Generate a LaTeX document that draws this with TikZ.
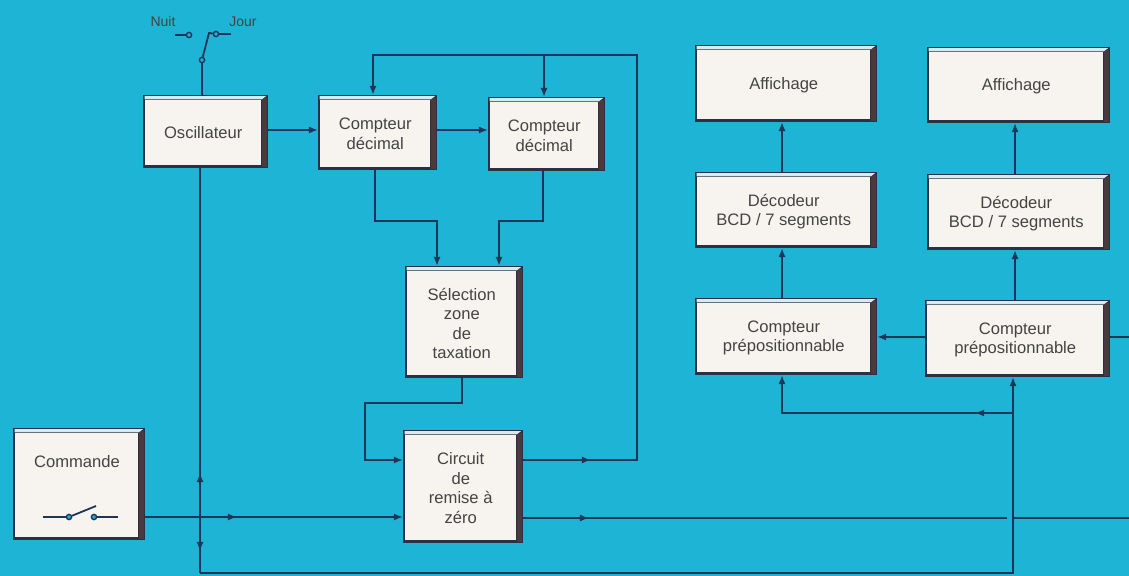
\documentclass[tikz,border=0pt]{standalone}
\usepackage{fontspec}
\setmainfont{Liberation Sans}
\usetikzlibrary{arrows.meta,decorations.markings}
\definecolor{bg}{HTML}{1DB4D5}
\definecolor{ln}{HTML}{1E3558}
\definecolor{edge}{HTML}{2B3142}
\definecolor{side}{HTML}{4A3A3F}
\definecolor{face}{HTML}{F7F4F0}
\definecolor{bev}{HTML}{D6EBEE}
\definecolor{txt}{HTML}{444444}
\tikzset{
 blk/.style={fill=edge, draw=none, inner sep=0pt, outer sep=0pt, rectangle},
 lbl/.style={text=txt, align=center, font=\fontsize{8.3}{9.8}\selectfont, inner sep=0pt},
 small/.style={text=txt, font=\fontsize{7}{8}\selectfont, inner sep=0pt},
 wire/.style={draw=ln, color=ln, line width=0.9pt},
 arr/.style={wire, -{Latex[length=4.6pt,width=3.6pt]}},
 marr/.style={postaction={decorate}, decoration={markings, mark=at position #1 with {\arrow{Latex[length=4.6pt,width=3.6pt]}}}},
 contact/.style={circle, draw=ln, line width=0.7pt, fill=bg, inner sep=0pt, minimum size=2.6pt},
}
\newcommand\bbox[6]{%
 \node[blk, minimum width={(#4-#2)*0.5pt}, minimum height={(#5-#3)*0.5pt}] (#1) at ({(#2+#4)/2},{(#3+#5)/2}) {};
 \fill[side] (#4-6.5,#3+3) rectangle (#4-1,#5-1);
 \fill[bev] (#2+1.5,#3+1.2) -- (#4-2,#3+1.2) -- (#4-6.5,#3+4.5) -- (#2+1.5,#3+4.5) -- cycle;
 \fill[face] (#2+2,#3+5.5) rectangle (#4-7,#5-2.5);
 \node[lbl] (#1-t) at ({(#2+#4-4.5)/2},{(#3+#5+3)/2}) {#6};
}
\begin{document}
\begin{tikzpicture}[x=0.5pt,y=-0.5pt]
\fill[bg] (0,0) rectangle (1129,576);
\useasboundingbox (0,0) rectangle (1129,576);

% boxes
\bbox{osc}{143}{95}{268}{168}{Oscillateur}
\bbox{cd1}{318}{95}{437}{170}{Compteur\\décimal}
\bbox{cd2}{488}{97}{605}{171}{Compteur\\décimal}
\bbox{sel}{405}{266}{523}{378}{Sélection\\zone\\de\\taxation}
\bbox{circ}{403}{430}{523}{543}{Circuit\\de\\remise à\\zéro}
\bbox{cmd}{13}{428}{145}{540}{}
\node[lbl] (cmdt) at (77,462) {Commande};
\bbox{aff1}{695}{45}{877}{122}{Affichage}
\bbox{aff2}{927}{47}{1110}{123}{Affichage}
\bbox{dec1}{695}{172}{877}{248}{Décodeur\\BCD / 7 segments}
\bbox{dec2}{927}{174}{1110}{250}{Décodeur\\BCD / 7 segments}
\bbox{pp1}{695}{298}{877}{375}{Compteur\\prépositionnable}
\bbox{pp2}{925}{300}{1110}{377}{Compteur\\prépositionnable}

% Nuit / Jour switch
\node[small] (nuit) at (163,22) {Nuit};
\node[small] (jour) at (243,22) {Jour};
\node[contact] (pv) at (202,60) {};
\node[contact] (nc) at (189,35) {};
\node[contact] (jc) at (216,34) {};
\coordinate (nl) at (175,35);
\coordinate (jr) at (231,34);
\draw[wire] (osc.north -| pv) -- (pv);
\draw[wire] (pv) -- (209,33) -- (jc);
\draw[wire] (nl) -- (nc);
\draw[wire] (jc) -- (jr);

% Commande switch
\node[contact] (c1) at (69,517) {};
\node[contact] (c2) at (94,517) {};
\coordinate (cl) at (43,517);
\coordinate (cr) at (118,517);
\draw[wire] (cl) -- (c1);
\draw[wire] (c2) -- (cr);
\draw[wire] (c1) -- (96,506);

% left part connectors
\draw[arr] (osc.east |- 0,130) -- (cd1.west |- 0,130);
\draw[arr] (cd1.east |- 0,130) -- (cd2.west |- 0,130);
\draw[arr] (cd1.south -| 375,0) -- (375,221) -- (437,221) -- (sel.north -| 437,0);
\draw[arr] (cd2.south -| 543,0) -- (543,221) -- (499,221) -- (sel.north -| 499,0);
\draw[arr] (sel.south -| 462,0) -- (462,403) -- (365,403) -- (365,460) -- (circ.west |- 0,460);
\draw[arr, marr=46pt] (cmd.east |- 0,517) -- (circ.west |- 0,517);
\coordinate (jn) at (200,517);
\draw[wire, marr=22pt] (jn) -- (osc.south -| jn);
\draw[wire, marr=17pt] (jn) -- (200,573);
\draw[arr] (200,573) -| (pp2.south -| 1013,0);
\draw[arr, marr=19pt] (1013,413) -| (pp1.south -| 782,0);
\draw[arr, marr=34pt] (circ.east |- 0,460) -- (637,460) -- (637,55) -- (373,55) -- (cd1.north -| 373,0);
\draw[arr] (544,55) -- (cd2.north -| 544,0);
\coordinate (g1) at (1007,518);
\coordinate (g2) at (1012,518);
\coordinate (e1) at (1129,518);
\draw[wire, marr=33pt] (circ.east |- 0,518) -- (g1);
\draw[wire] (g2) -- (e1);

% right part connectors
\coordinate (e2) at (1129,337);
\draw[wire] (pp2.east |- 0,337) -- (e2);
\draw[arr] (pp2.west |- 0,337) -- (pp1.east |- 0,337);
\draw[arr] (pp1.north -| 782,0) -- (dec1.south -| 782,0);
\draw[arr] (dec1.north -| 782,0) -- (aff1.south -| 782,0);
\draw[arr] (pp2.north -| 1015,0) -- (dec2.south -| 1015,0);
\draw[arr] (dec2.north -| 1015,0) -- (aff2.south -| 1015,0);
\end{tikzpicture}
\end{document}
